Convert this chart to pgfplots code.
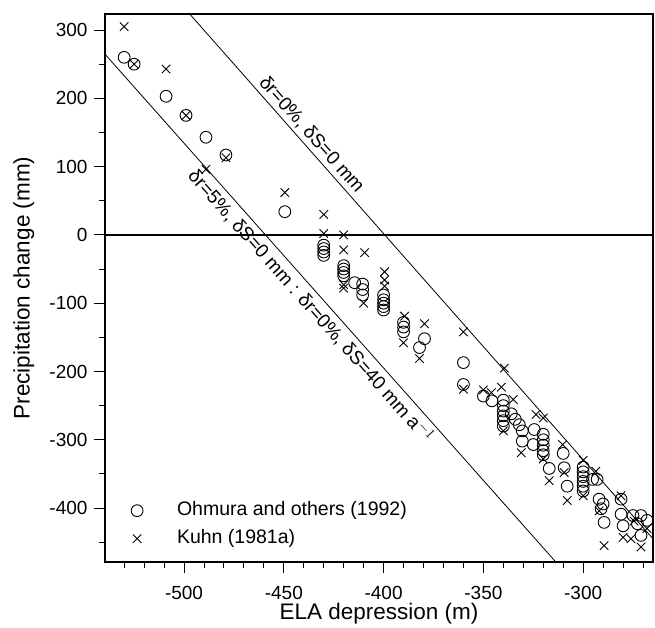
\documentclass[border=0pt]{standalone}
\usepackage{fontspec}
\setmainfont{Liberation Sans}
\usepackage{pgfplots}
\pgfplotsset{compat=1.18}

\pgfplotstableread{
x y
-530 260
-525 250
-509 203
-499 175
-489 143
-479 117
-449.5 34
-430 -15
-430 -20
-430 -25
-430 -30
-420 -45
-420 -50
-420 -55
-420 -60
-414.5 -70
-410.5 -72
-410.5 -80
-410.5 -88
-400 -88
-400 -95
-400 -100
-400 -105
-400 -110
-390 -128
-390 -135
-390 -142
-379.5 -152
-382 -165
-360 -187
-360 -219
-350 -236
-345.7 -243
-340 -242
-340 -250
-340 -258
-340 -265
-340 -272
-340 -280
-336 -262
-334 -270
-332 -278
-330.5 -287
-330.5 -302
-324.5 -285
-325 -307
-320 -292
-320 -300
-320 -308
-320 -316
-320 -322
-317 -342
-310 -320
-309.5 -341
-308 -368
-300 -340
-300 -347
-300 -354
-300 -361
-300 -368
-300 -375
-295.3 -358
-293 -358
-292 -387
-290 -394
-291 -401
-289.5 -421
-281 -387
-281 -409
-280 -426
-275 -411
-271 -411
-272.8 -423
-268 -418
-271 -440
}\ohmura

\pgfplotstableread{
x y
-530 305
-525 250
-509 243
-499 175
-489 96
-479 113
-449.5 62
-430 30
-430 2
-420 0
-420 -22
-409.5 -26
-420 -73
-420 -78
-410 -100
-399.5 -54
-399.5 -66
-399.5 -75
-389.5 -119
-390 -158
-379.5 -130
-382 -181
-360 -142
-360 -226
-339.5 -195
-341 -223
-350 -227
-346 -231
-340 -287
-335 -241
-331 -319
-323.6 -263
-320 -268
-320 -328
-317 -360
-310.3 -307
-309.5 -348
-308 -389
-300 -330
-300 -382
-293.7 -346
-292 -404
-289.5 -455
-281 -382
-280 -443
-274.5 -419
-276 -445
-271 -457
-268 -430
}\kuhn

\begin{document}
\begin{tikzpicture}
\path (0pt,0pt) rectangle (655pt,624pt);
\begin{axis}[
  at={(105pt,62pt)}, anchor=south west,
  scale only axis, width=548pt, height=548pt,
  xmin=-539.6, xmax=-265, ymin=-479, ymax=323.5,
  axis line style={line width=1.1pt},
  tick align=outside, tick pos=left,
  major tick length=11pt, minor tick length=6pt,
  every tick/.style={black, line width=0.9pt},
  xtick={-500,-450,-400,-350,-300},
  xticklabels={-500,-450,-400,-350,-300},
  minor xtick={-530,-520,...,-270},
  ytick={-400,-300,-200,-100,0,100,200,300},
  yticklabels={-400,-300,-200,-100,0,100,200,300},
  minor ytick={-450,-350,...,250},
  tick label style={font=\fontsize{19}{22}\selectfont},
  xticklabel style={yshift=-10pt},
  yticklabel style={xshift=-3pt},
  xlabel={ELA depression (m)},
  ylabel={Precipitation change (mm)},
  label style={font=\fontsize{22.5}{26}\selectfont},
  xlabel style={at={(axis description cs:0.5,0)}, anchor=base, yshift=-57pt},
  ylabel style={at={(axis description cs:-0.148,0.5)}, anchor=center},
  legend style={draw=none, fill=none, at={(axis description cs:0.042,0.115)}, anchor=north west,
    font=\fontsize{19.5}{23}\selectfont, row sep=9pt,
    nodes={inner sep=0pt, text height=14pt, text depth=5pt}},
  legend cell align=left,
  legend image code/.code={\draw[#1] plot coordinates {(0pt,0pt)};},
  /tikz/every odd column/.append style={column sep=34pt},
]
\addplot[only marks, mark=o, mark size=5.9pt, line width=0.9pt] table {\ohmura};
\addlegendentry{Ohmura and others (1992)}
\addplot[only marks, mark=x, mark size=6pt, line width=0.9pt] table {\kuhn};
\addlegendentry{Kuhn (1981a)}
\addplot[black, line width=1.2pt, forget plot] coordinates {(-539.6,0) (-265,0)};
\addplot[black, line width=0.8pt, forget plot] coordinates {(-496.7,322) (-265,-445)}
  node[pos=0.243, sloped, above, inner sep=3pt, font=\fontsize{19}{22}\selectfont] {δr=0\%, δS=0 mm};
\addplot[black, line width=0.8pt, forget plot] coordinates {(-540,266) (-313.7,-479)}
  node[pos=0.48, sloped, below, inner sep=4pt, font=\fontsize{19}{22}\selectfont] {δr=5\%, δS=0 mm : δr=0\%, δS=40 mm a$^{-1}$};
\end{axis}
\end{tikzpicture}
\end{document}
